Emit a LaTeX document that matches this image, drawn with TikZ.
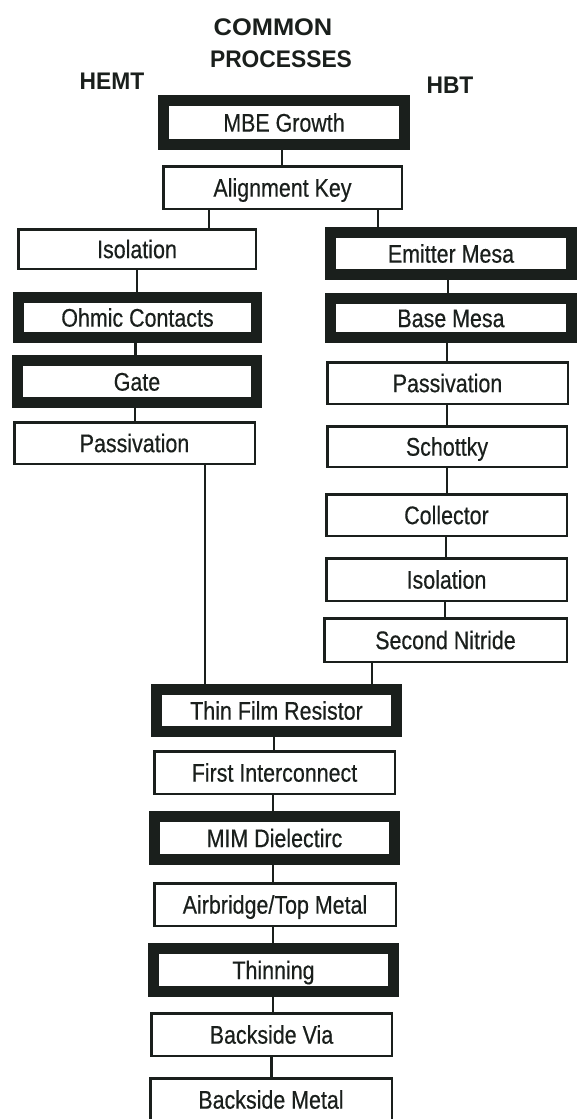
\documentclass[tikz,border=0pt]{standalone}
\usepackage{fontspec}
\setmainfont{Liberation Sans}
\newfontfamily\boxfont[FakeStretch=0.84,FakeBold=0.4]{Liberation Sans}
\newfontfamily\headfont[FakeStretch=0.95]{Liberation Sans}
\newfontfamily\wideheadfont[FakeStretch=1.06]{Liberation Sans}
\definecolor{ink}{HTML}{1A1F1C}
\begin{document}
\begin{tikzpicture}[x=1pt,y=-1pt,
  proc/.style={draw=ink, fill=white, line width=2.5pt, inner sep=0pt,
    font=\boxfont\fontsize{25.5}{30}\selectfont, text height=18.3pt, text depth=0pt, text=ink},
  keyproc/.style={proc, line width=11pt},
  conn/.style={draw=ink, line width=2.5pt},
  head/.style={font=\headfont\bfseries\fontsize{24}{28}\selectfont, text=ink, inner sep=0pt, anchor=base}]
\useasboundingbox (0,0) rectangle (579,1119);
\fill[white] (0,0) rectangle (579,1119);

% headers
\node[head, font=\wideheadfont\bfseries\fontsize{24}{28}\selectfont] (common) at (273,35) {COMMON};
\node[head] (processes) at (281,67) {PROCESSES};
\node[head] (hemt) at (112,89) {HEMT};
\node[head] (hbt) at (450,93) {HBT};

% common top
\node[keyproc, minimum width=241pt, minimum height=44pt] (mbe) at (284,122.5) {MBE Growth};
\node[proc, minimum width=238.5pt, minimum height=42.5pt] (align) at (282.5,187.5) {Alignment Key};

% HEMT column
\node[proc, minimum width=237.5pt, minimum height=39.5pt] (isoL) at (137,249) {Isolation};
\node[keyproc, minimum width=238pt, minimum height=40pt] (ohmic) at (137.5,317.5) {Ohmic Contacts};
\node[keyproc, minimum width=239pt, minimum height=42pt] (gate) at (137,381.5) {Gate};
\node[proc, minimum width=240.5pt, minimum height=41.5pt] (passL) at (134.5,443) {Passivation};

% HBT column
\node[keyproc, minimum width=241pt, minimum height=42pt] (emitter) at (451,253.5) {Emitter Mesa};
\node[keyproc, minimum width=241pt, minimum height=39pt] (base) at (451,318) {Base Mesa};
\node[proc, minimum width=240.5pt, minimum height=41.5pt] (passR) at (447.5,383) {Passivation};
\node[proc, minimum width=239.5pt, minimum height=40.5pt] (schottky) at (447,446.5) {Schottky};
\node[proc, minimum width=240.5pt, minimum height=41.5pt] (collector) at (446.5,515) {Collector};
\node[proc, minimum width=240.5pt, minimum height=42.5pt] (isoR) at (446.5,579.5) {Isolation};
\node[proc, minimum width=242.5pt, minimum height=43.5pt] (nitride) at (445.5,640) {Second Nitride};

% common bottom
\node[keyproc, minimum width=240pt, minimum height=42pt] (tfr) at (276.5,710.5) {Thin Film Resistor};
\node[proc, minimum width=240.5pt, minimum height=42.5pt] (first) at (274.5,772.5) {First Interconnect};
\node[keyproc, minimum width=240pt, minimum height=43pt] (mim) at (274.5,838) {MIM Dielectirc};
\node[proc, minimum width=241.5pt, minimum height=42.5pt] (air) at (275,904.5) {Airbridge/Top Metal};
\node[keyproc, minimum width=240pt, minimum height=43pt] (thin) at (273.5,970) {Thinning};
\node[proc, minimum width=240.5pt, minimum height=42.5pt] (via) at (271.5,1034.5) {Backside Via};
\node[proc, minimum width=241.5pt, minimum height=42.5pt] (bmetal) at (271,1099.5) {Backside Metal};

% connectors
\draw[conn] ([xshift=-2pt]mbe.south) -- ([xshift=-2pt]mbe.south |- align.north);
\draw[conn] ([xshift=-73.5pt]align.south) -- ([xshift=-73.5pt]align.south |- isoL.north);
\draw[conn] ([xshift=95.5pt]align.south) -- ([xshift=95.5pt]align.south |- emitter.north);
\draw[conn] (isoL.south) -- (isoL.south |- ohmic.north);
\draw[conn] ([xshift=-2pt]ohmic.south) -- ([xshift=-2pt]ohmic.south |- gate.north);
\draw[conn] ([xshift=-2pt]gate.south) -- ([xshift=-2pt]gate.south |- passL.north);
\draw[conn] ([xshift=70.5pt]passL.south) -- ([xshift=70.5pt]passL.south |- tfr.north);
\draw[conn] ([xshift=-3pt]emitter.south) -- ([xshift=-3pt]emitter.south |- base.north);
\draw[conn] ([xshift=-4pt]base.south) -- ([xshift=-4pt]base.south |- passR.north);
\draw[conn] ([xshift=-0.5pt]passR.south) -- ([xshift=-0.5pt]passR.south |- schottky.north);
\draw[conn] (schottky.south) -- (schottky.south |- collector.north);
\draw[conn] ([xshift=-0.5pt]collector.south) -- ([xshift=-0.5pt]collector.south |- isoR.north);
\draw[conn] ([xshift=-1.5pt]isoR.south) -- ([xshift=-1.5pt]isoR.south |- nitride.north);
\draw[conn] ([xshift=-73.5pt]nitride.south) -- ([xshift=-73.5pt]nitride.south |- tfr.north);
\draw[conn] ([xshift=-2.5pt]tfr.south) -- ([xshift=-2.5pt]tfr.south |- first.north);
\draw[conn] ([xshift=-1.5pt]first.south) -- ([xshift=-1.5pt]first.south |- mim.north);
\draw[conn] ([xshift=-1.5pt]mim.south) -- ([xshift=-1.5pt]mim.south |- air.north);
\draw[conn] ([xshift=-2pt]air.south) -- ([xshift=-2pt]air.south |- thin.north);
\draw[conn] ([xshift=-0.5pt]thin.south) -- ([xshift=-0.5pt]thin.south |- via.north);
\draw[conn] (via.south) -- (via.south |- bmetal.north);
\end{tikzpicture}
\end{document}
